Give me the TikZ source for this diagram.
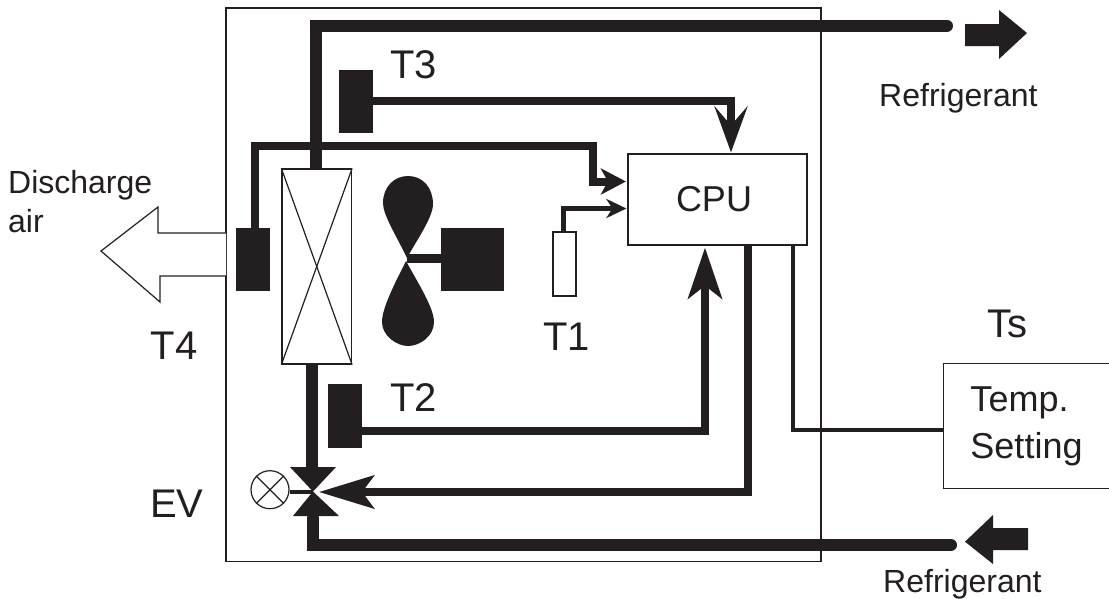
\documentclass[tikz,border=0pt]{standalone}
\usepackage{fontspec}
\setmainfont{Liberation Sans}
\usetikzlibrary{arrows.meta}
\definecolor{ink}{HTML}{231F20}
\tikzset{
  box/.style={draw=ink,line width=1.2pt,fill=white,inner sep=0pt,text=ink},
  sensor/.style={fill=ink,inner sep=0pt,minimum width=34pt,minimum height=63pt},
  pipeXL/.style={draw=ink,line width=12pt,line cap=round,miter limit=10},
  pipeL/.style={draw=ink,line width=8pt,line cap=butt,miter limit=10},
  pipeS/.style={draw=ink,line width=4.5pt,line cap=butt,miter limit=10},
  thin line/.style={draw=ink,line width=1.2pt},
  lbl/.style={anchor=base west,inner sep=0pt,text=ink,font=\fontsize{40}{46}\selectfont},
  small lbl/.style={anchor=base west,inner sep=0pt,text=ink,font=\fontsize{32}{39}\selectfont}
}
\begin{document}
\begin{tikzpicture}[x=1pt,y=-1pt]
\useasboundingbox (0,0) rectangle (1109,598);
\fill[white] (0,0) rectangle (1109,598);
% frame
\node[box,fill=none,minimum width=595pt,minimum height=553.5pt] (frame) at (523.5,284.75) {};
% sensors, motor and boxes
\node[sensor] (t4) at (253,259.5) {};
\node[sensor] (t3) at (356,101.5) {};
\node[sensor,minimum height=64pt] (t2) at (344.5,416) {};
\node[fill=ink,inner sep=0pt,minimum width=63pt,minimum height=63pt] (motor) at (472.5,259.5) {};
\coordinate (valve) at (313,491.5);
\coordinate (valveTop) at (311.5,470);
\coordinate (valveBot) at (313,518);
\coordinate (valveR) at (319,492);
\coordinate (hub) at (407,258.5);
\coordinate (outTop) at (947,25.7);
\coordinate (outBot) at (951,545);
\coordinate (t4bend) at (593,145.5);
\coordinate (coilOut) at (315.5,169);
\coordinate (coilIn) at (311.5,364);
\node[box,minimum width=179pt,minimum height=91pt,font=\fontsize{36}{42}\selectfont] (cpu) at (717.5,199.5) {\hspace*{-7pt}\raisebox{-2.5pt}{CPU}};
\node[box,minimum width=23pt,minimum height=64pt] (t1) at (564.5,264) {};
\node[inner sep=0pt,minimum width=165pt,minimum height=124pt,text=ink,align=left,font=\fontsize{36}{47}\selectfont] (temp) at (1026.5,426) {\raisebox{-2pt}{Temp.}\\\raisebox{-2pt}{Setting}};
\draw[thin line] (temp.north east) -- (temp.north west) -- (temp.south west) -- (temp.south east);
% refrigerant pipes
\draw[pipeXL] (coilOut) |- (outTop);
\draw[pipeXL] (valveBot) |- (outBot);
\draw[pipeXL,line cap=butt] (coilIn) -- (valveTop);
% signal lines
\draw[pipeL,-{Stealth[length=25pt,width=26pt,inset=7pt]}] ([xshift=2pt]t4.north) |- (t4bend) |- ([xshift=-1.5pt,yshift=18pt]cpu.west);
\draw[pipeL,-{Stealth[length=46pt,width=33pt,inset=19pt]}] ([yshift=1pt]t3.east) -| ([xshift=13.5pt,yshift=1pt]cpu.north);
\draw[pipeL,-{Stealth[length=51pt,width=34pt,inset=13pt]}] ([yshift=-15pt]t2.east) -| ([xshift=-12.5pt,yshift=-2pt]cpu.south);
\draw[pipeL,-{Stealth[length=55pt,width=33pt,inset=12pt]}] ([xshift=30.5pt]cpu.south) |- (valveR);
\draw[pipeS,-{Stealth[length=20pt,width=19pt,inset=6pt]}] ([xshift=-1pt]t1.north) |- ([xshift=-1pt,yshift=-9pt]cpu.west);
\draw[pipeS] ([xshift=75.5pt]cpu.south) |- ([yshift=-4pt]temp.west);
% coil
\node[box,minimum width=69.5pt,minimum height=195pt] (coil) at (316.75,266.5) {};
\draw[thin line] (coil.north west) -- (coil.south east);
\draw[thin line] (coil.north east) -- (coil.south west);
% expansion valve
\fill[ink] (valve) -- (290,467) -- (336,467) -- cycle;
\fill[ink] (valve) -- (293,516) -- (339,516) -- cycle;
\node[box,circle,minimum size=38pt] (ev) at (270,489.7) {};
\draw[thin line] (ev.45) -- (ev.225);
\draw[thin line] (ev.135) -- (ev.-45);
\draw[draw=ink,line width=4pt] (ev.east |- valve) -- (valve);
% fan
\draw[ink,line width=9pt] (motor.west |- hub) -- (hub);
\fill[ink] (407,258) .. controls (396,235) and (383,215) .. (383,203)
  .. controls (383,187) and (394,176) .. (408,176)
  .. controls (423,176) and (433,188) .. (433,204)
  .. controls (433,217) and (418,238) .. (407,258) -- cycle;
\fill[ink] (406,261) .. controls (395,283) and (382,308) .. (382,322)
  .. controls (382,336) and (397,346) .. (408,346)
  .. controls (420,346) and (434,336) .. (434,322)
  .. controls (434,308) and (418,283) .. (406,261) -- cycle;
% block arrows
\fill[ink] (965,24) -- (999,24) -- (999,10) -- (1027,33) -- (999,59) -- (999,46) -- (965,46) -- cycle;
\fill[ink] (1028,528) -- (993,528) -- (993,515) -- (965,541.7) -- (993,564) -- (993,550) -- (1028,550) -- cycle;
\draw[thin line,fill=white] (226,233) -- (158,233) -- (158,207) -- (101,251) -- (160,302) -- (160,276) -- (226,276);
% labels
\node[lbl] (lt3) at (390,78) {T3};
\node[lbl] (lt4) at (150.5,359) {T4};
\node[lbl] (lt1) at (543,350) {T1};
\node[lbl] (lt2) at (390,411) {T2};
\node[lbl] (lts) at (987,337) {Ts};
\node[lbl] (lev) at (150,517) {EV};
\node[small lbl] (lr1) at (879,106.7) {Refrigerant};
\node[small lbl] (lr2) at (883,592) {Refrigerant};
\node[small lbl] (ld) at (8,193) {Discharge};
\node[small lbl] (la) at (8,232) {air};
\end{tikzpicture}
\end{document}
